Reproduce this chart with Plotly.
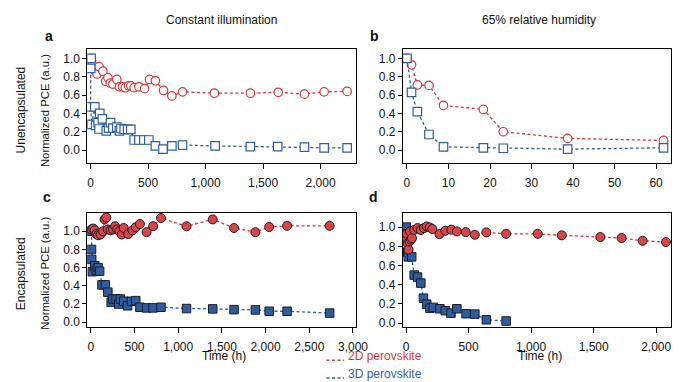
import plotly.graph_objects as go

# ---------------- data ----------------
# Panel a: unencapsulated, constant illumination
a_2d_t = [5, 8, 15, 37, 57, 74, 108, 131, 151, 171, 194, 228, 251, 279, 302, 330, 350, 379, 421, 470, 513, 564, 635, 707, 800, 1077, 1390, 1632, 1860, 2031, 2231]
a_2d_v = [1.0, 0.97, 0.93, 0.87, 0.83, 0.91, 0.86, 0.75, 0.79, 0.73, 0.72, 0.77, 0.69, 0.69, 0.68, 0.70, 0.70, 0.68, 0.69, 0.67, 0.77, 0.755, 0.65, 0.59, 0.635, 0.62, 0.62, 0.63, 0.61, 0.635, 0.64]
a_3d_t = [5, 1, 1, 9, 37, 45, 66, 74, 80, 103, 137, 157, 174, 194, 228, 251, 265, 293, 322, 350, 379, 421, 464, 507, 564, 630, 707, 800, 1083, 1390, 1627, 1860, 2031, 2231]
a_3d_v = [1.0, 0.89, 0.47, 0.28, 0.47, 0.27, 0.30, 0.23, 0.40, 0.34, 0.21, 0.24, 0.30, 0.24, 0.25, 0.21, 0.235, 0.225, 0.225, 0.225, 0.11, 0.11, 0.11, 0.11, 0.045, 0.01, 0.045, 0.055, 0.045, 0.037, 0.037, 0.033, 0.025, 0.025]

# Panel b: unencapsulated, 65% relative humidity
b_t = [0, 1.1, 2.5, 5.3, 8.8, 18.4, 23.2, 38.7, 61.8]
b_2d_v = [1.0, 0.93, 0.71, 0.705, 0.487, 0.443, 0.20, 0.127, 0.105]
b_3d_v = [1.0, 0.63, 0.42, 0.17, 0.035, 0.025, 0.02, 0.01, 0.025]

# Panel c: encapsulated, constant illumination
c_2d_t = [8, 27, 45, 64, 83, 112, 140, 158, 177, 195, 225, 252, 278, 301, 326, 353, 376, 428, 477, 514, 562, 638, 713, 803, 1095, 1395, 1639, 1883, 2041, 2246, 2733]
c_2d_v = [1.02, 1.03, 1.01, 0.97, 0.956, 0.964, 1.0, 1.13, 1.15, 1.02, 1.01, 1.02, 1.055, 1.02, 1.0, 0.964, 1.036, 0.97, 1.01, 1.044, 1.08, 0.99, 1.055, 1.145, 1.055, 1.13, 1.036, 0.99, 1.047, 1.06, 1.06]
c_3d_t = [8, 8, 10, 16, 45, 64, 83, 101, 128, 166, 195, 233, 252, 289, 319, 337, 376, 421, 465, 514, 562, 638, 713, 803, 1095, 1395, 1639, 1883, 2041, 2246, 2733]
c_3d_v = [1.0, 0.80, 0.69, 0.555, 0.62, 0.57, 0.60, 0.56, 0.41, 0.41, 0.33, 0.22, 0.255, 0.255, 0.20, 0.255, 0.23, 0.18, 0.23, 0.237, 0.164, 0.157, 0.157, 0.164, 0.15, 0.146, 0.138, 0.135, 0.12, 0.12, 0.10]

# Panel d: encapsulated, 65% relative humidity
d_2d_t = [2, 5, 13, 20, 26, 31, 39, 47, 65, 92, 118, 144, 165, 189, 210, 267, 314, 362, 406, 477, 550, 642, 800, 1053, 1245, 1554, 1724, 1892, 2078]
d_2d_v = [0.87, 0.93, 0.83, 0.765, 0.85, 0.955, 0.87, 0.885, 0.97, 0.99, 0.97, 0.99, 1.007, 0.997, 0.98, 0.927, 0.962, 0.973, 0.955, 0.948, 0.92, 0.945, 0.93, 0.93, 0.914, 0.896, 0.886, 0.858, 0.844]
d_3d_t = [2, 2, 13, 18, 45, 65, 92, 118, 139, 165, 191, 218, 270, 314, 359, 406, 480, 550, 642, 800]
d_3d_v = [1.0, 0.93, 0.74, 0.69, 0.69, 0.50, 0.48, 0.417, 0.26, 0.198, 0.156, 0.164, 0.15, 0.13, 0.104, 0.15, 0.098, 0.094, 0.035, 0.022]

col_titles = ["Constant illumination", "65% relative humidity"]
row_titles = ["Unencapsulated", "Encapsulated"]
y_title = "Normalized PCE (a.u.)"
x_title = "Time (h)"
panel_letters = ["a", "b", "c", "d"]
legend_labels = ["2D perovskite", "3D perovskite"]

# ---------------- style ----------------
W, H = 700, 382
RED = "#d2393c"
BLUE = "#2f5f9e"
RED_FILL = "#d94545"
BLUE_FILL = "#2f5c9c"
FONT = "Liberation Sans, Arial, sans-serif"
FS = 12
OFF = 4.5  # annotation vertical render offset correction (px)

def px(x):
    return x / W

def py(y):
    return 1 - y / H

fig = go.Figure()

def add_open(t, v, color, symbol, xa, ya):
    fig.add_trace(go.Scatter(
        x=t, y=v, mode="lines+markers", xaxis=xa, yaxis=ya, showlegend=False,
        line=dict(color=color, width=1.3, dash="3px,2.5px"),
        marker=dict(symbol=symbol, size=8.5, color="white", line=dict(color=color, width=1.2)),
    ))

def add_filled(t, v, color, fill, symbol, xa, ya, size):
    fig.add_trace(go.Scatter(
        x=t, y=v, mode="lines+markers", xaxis=xa, yaxis=ya, showlegend=False,
        line=dict(color=color, width=1.3, dash="3px,2.5px"),
        marker=dict(symbol=symbol, size=size, color=fill, line=dict(color="#1c1c2a", width=1)),
    ))

add_open(a_2d_t, a_2d_v, RED, "circle", "x", "y")
add_open(a_3d_t, a_3d_v, BLUE, "square", "x", "y")
add_open(b_t, b_2d_v, RED, "circle", "x2", "y2")
add_open(b_t, b_3d_v, BLUE, "square", "x2", "y2")
add_filled(c_3d_t, c_3d_v, BLUE, BLUE_FILL, "square", "x3", "y3", 8.5)
add_filled(c_2d_t, c_2d_v, RED, RED_FILL, "circle", "x3", "y3", 9)
add_filled(d_3d_t, d_3d_v, BLUE, BLUE_FILL, "square", "x4", "y4", 8.5)
add_filled(d_2d_t, d_2d_v, RED, RED_FILL, "circle", "x4", "y4", 9)

left_dom = [px(80.7), px(354.3)]
right_dom = [px(401.7), px(675)]
top_dom = [py(156.7), py(41.7)]
bot_dom = [py(321.7), py(206.7)]

def xaxis(domain, anchor, rng, dtick):
    return dict(domain=domain, anchor=anchor, range=rng, dtick=dtick, tick0=0,
                tickformat=",d", showline=True, linecolor="black", linewidth=1,
                mirror=True, ticks="outside", ticklen=5, tickwidth=1, tickcolor="black",
                ticklabelstandoff=3,
                showgrid=False, zeroline=False,
                tickfont=dict(family=FONT, size=FS, color="#111"))

def yaxis(domain, anchor, rng):
    return dict(domain=domain, anchor=anchor, range=rng, tickvals=[0, 0.2, 0.4, 0.6, 0.8, 1.0],
                tickformat=".1f", showline=True, linecolor="black", linewidth=1,
                mirror=True, ticks="outside", ticklen=4, tickwidth=1, tickcolor="black",
                showgrid=False, zeroline=False,
                tickfont=dict(family=FONT, size=FS, color="#111"))

fig.update_layout(
    width=W, height=H,
    margin=dict(l=0, r=0, t=0, b=0),
    paper_bgcolor="white", plot_bgcolor="white",
    font=dict(family=FONT, size=FS, color="#111"),
    xaxis=xaxis(left_dom, "y", [-28, 2310], 500),
    yaxis=yaxis(top_dom, "x", [-0.146, 1.098]),
    xaxis2=xaxis(right_dom, "y2", [-1, 63.7], 10),
    yaxis2=yaxis(top_dom, "x2", [-0.146, 1.098]),
    xaxis3=xaxis(left_dom, "y3", [-40, 3037], 500),
    yaxis3=yaxis(bot_dom, "x3", [-0.055, 1.2]),
    xaxis4=xaxis(right_dom, "y4", [-26, 2122], 500),
    yaxis4=yaxis(bot_dom, "x4", [-0.042, 1.146]),
)

ann = []
def text(x, y, s, size=FS, color="#111", bold=False, angle=0, xanchor="center"):
    if angle == 0:
        y = y - OFF
    else:
        x = x - OFF
    ann.append(dict(x=px(x), y=py(y), xref="paper", yref="paper", text=("<b>%s</b>" % s) if bold else s,
                    showarrow=False, textangle=angle, xanchor=xanchor, yanchor="middle",
                    borderpad=0,
                    font=dict(family=FONT, size=size, color=color)))

text(217, 16.5, col_titles[0])
text(540, 16.5, col_titles[1])
text(41.5, 33, panel_letters[0], 14, bold=True)
text(373, 33, panel_letters[1], 14, bold=True)
text(40, 195, panel_letters[2], 14, bold=True)
text(372, 195, panel_letters[3], 14, bold=True)
text(18, 103, row_titles[0], angle=-90)
text(42, 103, y_title, 11.3, angle=-90)
text(18, 268, row_titles[1], angle=-90)
text(42, 267, y_title, 11.3, angle=-90)
text(220, 355, x_title)
text(541.5, 355, x_title)
text(345, 355, legend_labels[0], color=RED, xanchor="left")
text(345, 373, legend_labels[1], color=BLUE, xanchor="left")
fig.update_layout(annotations=ann)

shapes = []
for yy, c in [(355, RED), (373, BLUE)]:
    shapes.append(dict(type="line", xref="paper", yref="paper", x0=px(324), x1=px(342),
                       y0=py(yy), y1=py(yy), line=dict(color=c, width=1.5, dash="3px,2.5px")))
fig.update_layout(shapes=shapes)

fig.write_html("out.html")
